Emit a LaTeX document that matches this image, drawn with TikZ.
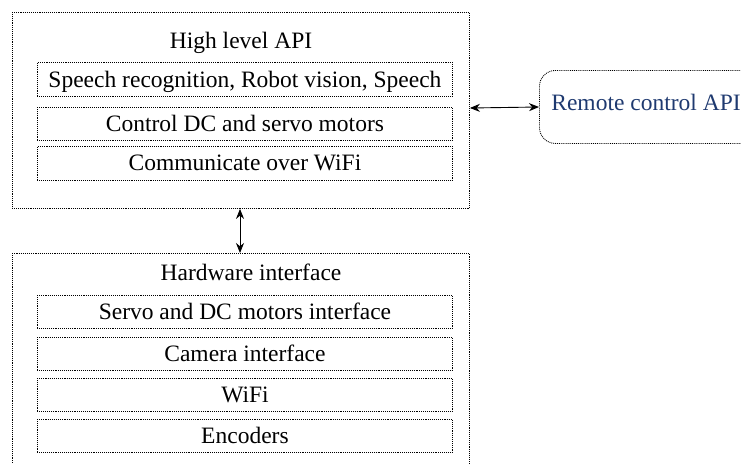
\documentclass[tikz,border=0pt]{standalone}
\usepackage{fontspec}
\setmainfont{Liberation Serif}
\usetikzlibrary{arrows.meta}
\definecolor{remblue}{HTML}{1F3A70}
\begin{document}
\begin{tikzpicture}[x=1pt,y=1pt,
  outerbox/.style={draw,densely dotted,line width=0.9pt,anchor=north west,inner sep=0pt},
  innerbox/.style={draw,densely dotted,line width=0.9pt,anchor=north west,minimum width=415pt,minimum height=34pt,inner sep=0pt,text depth=1pt,font=\fontsize{23.5}{25}\selectfont},
  titletext/.style={font=\fontsize{23.5}{25}\selectfont,inner sep=0pt},
  conn/.style={{Stealth[length=10pt,width=8pt]}-{Stealth[length=10pt,width=8pt]},line width=0.9pt}]
\useasboundingbox (0,0) rectangle (741,-463);
\clip (0,0) rectangle (741,-463);
% top block
\node[outerbox,minimum width=457pt,minimum height=196pt] (hl) at (12,-12) {};
\node[titletext] (hlt) at (241,-43) {High level API};
\node[innerbox] (s1) at (37,-62) {Speech recognition, Robot vision, Speech};
\node[innerbox,minimum height=33pt] (s2) at (37,-107) {Control DC and servo motors};
\node[innerbox] (s3) at (37,-146) {Communicate over WiFi};
% bottom block
\node[outerbox,minimum width=457pt,minimum height=230pt] (hw) at (12,-253) {};
\node[titletext] (hwt) at (251,-272) {Hardware interface};
\node[innerbox,minimum height=33pt] (h1) at (37,-295) {Servo and DC motors interface};
\node[innerbox,minimum height=33pt] (h2) at (37,-337) {Camera interface};
\node[innerbox,minimum height=33pt] (h3) at (37,-378) {WiFi};
\node[innerbox,minimum height=33pt] (h4) at (37,-419) {Encoders};
% remote
\node[draw,densely dotted,line width=0.9pt,rounded corners=16pt,anchor=north west,minimum width=230pt,minimum height=73pt,inner sep=0pt] (rb) at (539,-70) {};
\node[titletext,text=remblue] (rt) at (646,-102) {Remote control API};
% connectors
\draw[conn] (hl.south -| 240,0) -- (hw.north -| 240,0);
\draw[conn] (hl.east |- 0,-108) -- (rb.west |- 0,-107);
\end{tikzpicture}
\end{document}
